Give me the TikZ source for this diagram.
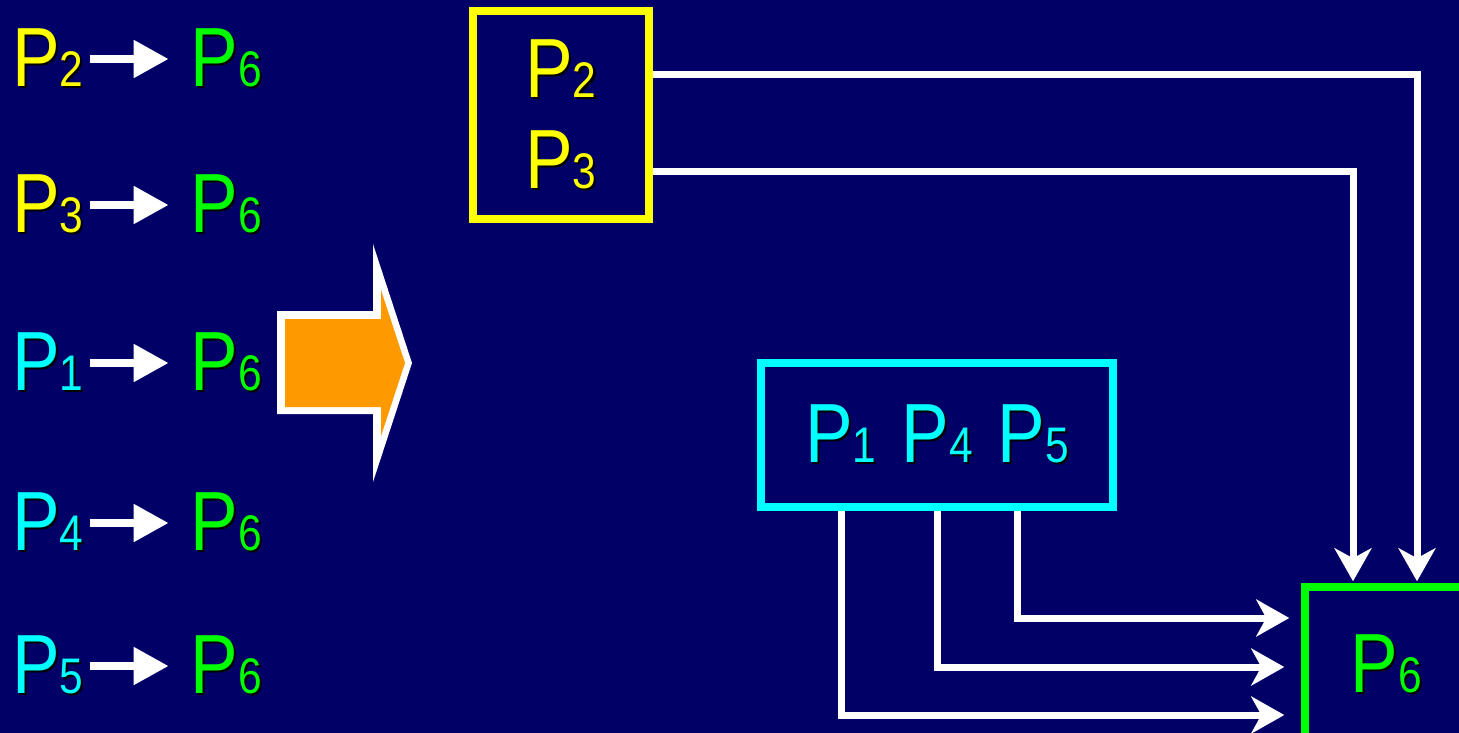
\documentclass[tikz,border=0pt]{standalone}
\usepackage{fontspec}
\setmainfont{Liberation Sans}[FakeStretch=0.85]
\usepackage{tikz}
\usetikzlibrary{arrows.meta,positioning}
\usepackage{xcolor}

\definecolor{navy}{RGB}{0,0,102}
\definecolor{pyellow}{RGB}{255,255,0}
\definecolor{pcyan}{RGB}{0,255,255}
\definecolor{pgreen}{RGB}{0,255,0}
\definecolor{porange}{RGB}{255,153,0}

\newcommand{\proc}[1]{P{\fontsize{50}{50}\selectfont #1}}
\newcommand{\shd}[2]{\makebox[0pt][l]{\kern2pt\raisebox{-2pt}{\color{black}#2}}{\color{#1}#2}}

\begin{document}
\begin{tikzpicture}[x=1pt, y=-1pt,
        every node/.style={inner sep=0pt, font=\fontsize{84}{91}\selectfont},
        box/.style={draw, line width=7.5pt, align=center},
        small arrow/.style={draw=white, line width=8pt, -{Triangle[length=35pt,width=36pt]}, shorten <=6pt, shorten >=22pt},
        flow/.style={draw=white, line width=7pt, -{Stealth[length=33pt,width=37pt,inset=10pt]}}
    ]
        \fill[navy] (0,0) rectangle (1459,733);
        \clip (0,0) rectangle (1459,733);

        % left column
        \node[anchor=west] (s2) at (12,59) {\shd{pyellow}{\proc{2}}};
        \node[anchor=west] (s3) at (12,205) {\shd{pyellow}{\proc{3}}};
        \node[anchor=west] (s1) at (12,363) {\shd{pcyan}{\proc{1}}};
        \node[anchor=west] (s4) at (12,523) {\shd{pcyan}{\proc{4}}};
        \node[anchor=west] (s5) at (12,666) {\shd{pcyan}{\proc{5}}};
        \node[right=107pt of s2] (t2) {\shd{pgreen}{\proc{6}}};
        \node[right=107pt of s3] (t3) {\shd{pgreen}{\proc{6}}};
        \node[right=107pt of s1] (t1) {\shd{pgreen}{\proc{6}}};
        \node[right=107pt of s4] (t4) {\shd{pgreen}{\proc{6}}};
        \node[right=107pt of s5] (t5) {\shd{pgreen}{\proc{6}}};

        \draw[small arrow] (s2) -- (t2);
        \draw[small arrow] (s3) -- (t3);
        \draw[small arrow] (s1) -- (t1);
        \draw[small arrow] (s4) -- (t4);
        \draw[small arrow] (s5) -- (t5);

        % big arrow
        \fill[white] (277,311) -- (373,311) -- (373,244) -- (412,363) -- (373,482) -- (373,414) -- (277,414) -- cycle;
        \fill[porange] (285,319) -- (381,319) -- (381,290) -- (405,363) -- (381,436) -- (381,407) -- (285,407) -- cycle;

        % boxes
        \node[box, draw=pyellow, minimum width=176pt, minimum height=208pt] (ybox) at (561,115)
            {\shd{pyellow}{\proc{2}}\\\shd{pyellow}{\proc{3}}};
        \node[box, draw=pcyan, minimum width=352pt, minimum height=144pt] (cbox) at (937,435)
            {\shd{pcyan}{\proc{1}}\hspace{25pt}\shd{pcyan}{\proc{4}}\hspace{25pt}\shd{pcyan}{\proc{5}}};
        \node[box, draw=pgreen, minimum width=162pt, minimum height=156pt] (gbox) at (1386,665)
            {\shd{pgreen}{\proc{6}}};

        \draw[flow, shorten >=2pt] (ybox.east |- 0,75) -| ([xshift=31pt]gbox.north);
        \draw[flow, shorten >=2pt] (ybox.east |- 0,171) -| ([xshift=-33pt]gbox.north);
        \draw[flow, shorten >=12pt] (cbox.south -| 1017,0) |- ([yshift=47pt]gbox.west);
        \draw[flow, shorten >=17pt] (cbox.south -| 937,0) |- ([yshift=-2pt]gbox.west);
        \draw[flow, shorten >=17pt] (cbox.south -| 841,0) |- ([yshift=-50pt]gbox.west);
    \end{tikzpicture}
\end{document}
